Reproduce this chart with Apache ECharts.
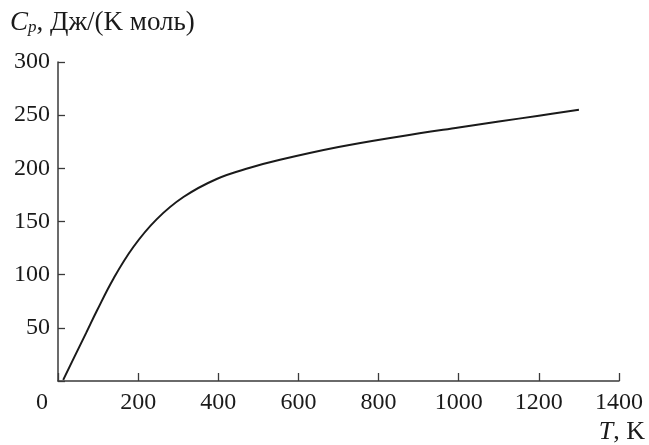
<!DOCTYPE html>
<html>
<head>
<meta charset="UTF-8">
<script src="https://cdn.jsdelivr.net/npm/echarts@6/dist/echarts.min.js"></script>
<style>
    html, body {margin: 0; padding: 0; background: #fff;}
    #chart {width: 649px; height: 445px;}
</style>
</head>
<body>
<div id="chart"></div>
<script type="text/javascript">
    // температура, K
    let tempList = [13, 40, 70, 97, 138, 188, 246, 313, 396, 479, 554, 700, 853, 1000, 1100, 1200, 1300];
    // теплоёмкость Cp, Дж/(K моль)
    let cpList = [1, 22, 45, 66, 96, 126, 152, 173, 190, 200.5, 208, 220, 230, 238.5, 244, 249.5, 255];
    let xTicks = [0, 200, 400, 600, 800, 1000, 1200, 1400];
    let yTicks = [50, 100, 150, 200, 250, 300];

    let chart = echarts.init(document.getElementById('chart'));
    let font = 'Liberation Serif';
    let axisColor = '#3a3a3a';
    let textColor = '#1a1a1a';

    let points = [];
    for (let i = 0; i < tempList.length; i++) {
        points.push([tempList[i], cpList[i]]);
    }

    let option = {
        backgroundColor: '#fff',
        animation: false,
        grid: {left: 58, right: 30, top: 62, bottom: 64},
        xAxis: {
            type: 'value',
            min: 0,
            max: 1400,
            interval: 200,
            splitLine: {show: false},
            axisLine: {lineStyle: {color: axisColor, width: 1.5}},
            axisTick: {inside: true, length: 8, lineStyle: {color: axisColor, width: 1.3}},
            axisLabel: {
                margin: 10,
                fontFamily: font,
                fontSize: 24,
                color: textColor,
                formatter: function (v) {
                    if (xTicks.indexOf(v) < 0) return '';
                    return v === 0 ? '{z|0}' : String(v);
                },
                rich: {z: {fontFamily: font, fontSize: 24, color: textColor, padding: [0, 32, 0, 0]}}
            }
        },
        yAxis: {
            type: 'value',
            min: 0,
            max: 300,
            interval: 50,
            splitLine: {show: false},
            axisLine: {show: true, lineStyle: {color: axisColor, width: 1.5}},
            axisTick: {show: true, inside: true, length: 7, lineStyle: {color: axisColor, width: 1.3}},
            axisLabel: {
                margin: 8,
                fontFamily: font,
                fontSize: 24,
                color: textColor,
                formatter: function (v) {
                    return yTicks.indexOf(v) < 0 ? '' : String(v);
                }
            }
        },
        graphic: [
            {
                type: 'text',
                left: 10,
                top: 9,
                style: {
                    text: '{c|C}{p|p}{t|, Дж/(K моль)}',
                    rich: {
                        c: {fontFamily: font, fontSize: 27, fontStyle: 'italic', fill: textColor},
                        p: {fontFamily: font, fontSize: 17, fontStyle: 'italic', fill: textColor, verticalAlign: 'bottom', padding: [9, 0, 0, 0]},
                        t: {fontFamily: font, fontSize: 27, fill: textColor}
                    }
                }
            },
            {
                type: 'text',
                right: 4,
                top: 419,
                style: {
                    text: '{i|T}{t|, K}',
                    rich: {
                        i: {fontFamily: font, fontSize: 26, fontStyle: 'italic', fill: textColor},
                        t: {fontFamily: font, fontSize: 26, fill: textColor}
                    }
                }
            }
        ],
        series: [
            {
                type: 'line',
                data: points,
                smooth: 0.4,
                symbol: 'none',
                lineStyle: {color: '#1a1a1a', width: 2}
            }
        ]
    };
    chart.setOption(option);
</script>
</body>
</html>
